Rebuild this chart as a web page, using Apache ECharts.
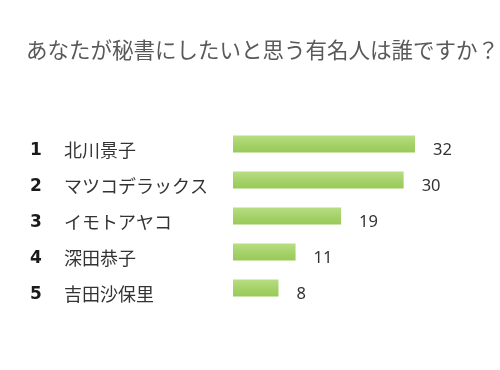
<!DOCTYPE html>
<html>
<head>
<meta charset="utf-8">
<script src="https://cdn.jsdelivr.net/npm/echarts@6/dist/echarts.min.js"></script>
<style>
html, body { margin:0; padding:0; background:#fff; }
#chart01 { width:500px; height:370px; }
</style>
</head>
<body>
<div id="chart01"></div>
<script>
var ranks = ['1', '2', '3', '4', '5'];
var names = ['北川景子', 'マツコデラックス', 'イモトアヤコ', '深田恭子', '吉田沙保里'];
var votes = [32, 30, 19, 11, 8];

var cats = [];
for (var i = 0; i < names.length; i++) {
    cats.push(ranks[i] + '|' + names[i]);
}

var chart01 = echarts.init(document.getElementById('chart01'));
var opt01 = {
    animation: false,
    title: {
        text: 'あなたが秘書にしたいと思う有名人は誰ですか？',
        left: 21,
        top: 34,
        textStyle: {
            fontFamily: 'Noto Sans CJK JP',
            fontSize: 21.5,
            fontWeight: 'normal',
            color: '#595959'
        }
    },
    grid: {
        left: 233,
        top: 126,
        width: 182,
        height: 180
    },
    xAxis: {
        type: 'value',
        min: 0,
        max: 32,
        show: false
    },
    yAxis: {
        type: 'category',
        inverse: true,
        data: cats,
        axisLine: {show: false},
        axisTick: {show: false},
        axisLabel: {
            align: 'left',
            margin: 203,
            padding: [9, 0, 0, 0],
            formatter: function (v) {
                var p = v.split('|');
                return '{r|' + p[0] + '}{n|' + p[1] + '}';
            },
            rich: {
                r: {
                    width: 34,
                    fontFamily: 'DejaVu Sans',
                    fontSize: 17,
                    fontWeight: 'bold',
                    lineHeight: 16,
                    verticalAlign: 'bottom',
                    color: '#1a1a1a'
                },
                n: {
                    fontFamily: 'Noto Sans CJK JP',
                    fontSize: 18,
                    lineHeight: 22,
                    verticalAlign: 'bottom',
                    color: '#333'
                }
            }
        }
    },
    series: [
        {
            type: 'bar',
            data: votes,
            barWidth: 17,
            itemStyle: {
                color: new echarts.graphic.LinearGradient(0, 0, 0, 1, [
                    {offset: 0, color: '#b8de84'},
                    {offset: 0.5, color: '#a6d26a'},
                    {offset: 1, color: '#98c95a'}
                ])
            },
            label: {
                show: true,
                position: 'right',
                distance: 18,
                offset: [0, 6],
                fontFamily: 'Noto Sans',
                fontSize: 16.5,
                color: '#333'
            }
        }
    ]
};
chart01.setOption(opt01);
</script>
</body>
</html>
